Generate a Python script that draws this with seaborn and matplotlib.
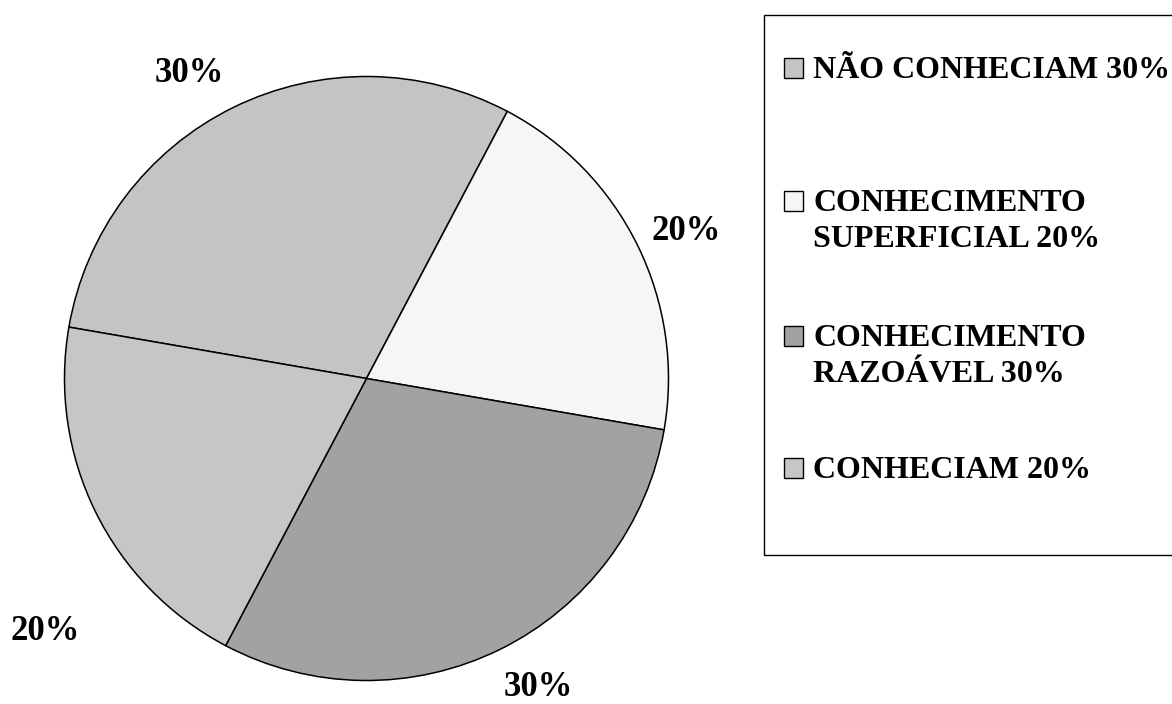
import matplotlib
matplotlib.use("Agg")
import matplotlib.pyplot as plt
from matplotlib.patches import Rectangle
import seaborn as sns

# Survey answers and their shares (percent)
categories = ["NÃO CONHECIAM", "CONHECIMENTO\nSUPERFICIAL", "CONHECIMENTO\nRAZOÁVEL", "CONHECIAM"]
shares = [30, 20, 30, 20]
slice_colors = ["#c4c4c4", "#f6f6f6", "#a2a2a2", "#c6c6c6"]

sns.set_theme(style="white")
plt.rcParams["font.family"] = ["Liberation Serif", "DejaVu Serif"]
plt.rcParams["font.weight"] = "bold"

W, H = 1172, 704
fig = plt.figure(figsize=(W / 100, H / 100), dpi=100)
fig.patch.set_facecolor("white")

# Pie axes: centre and radius in pixels
cx, cy, r = 366.5, 378.5, 302
ax = fig.add_axes([(cx - r) / W, (H - cy - r) / H, 2 * r / W, 2 * r / H])
wedges, texts = ax.pie(
    shares,
    colors=slice_colors,
    startangle=170.2,
    counterclock=False,
    labels=[f"{v}%" for v in shares],
    labeldistance=1.175,
    wedgeprops=dict(edgecolor="black", linewidth=1.1),
    textprops=dict(fontsize=25, fontweight="bold", color="black"),
)

# percentage labels: centre x / baseline y in pie units (radius = 1)
label_xy = [(-0.588, 0.983), (1.058, 0.459), (0.568, -1.050), (-1.065, -0.866)]
for t, (lx, ly) in zip(texts, label_xy):
    t.set_position((lx, ly))
    t.set_horizontalalignment("center")
    t.set_verticalalignment("baseline")

ax.set_xlim(-1, 1)
ax.set_ylim(-1, 1)
ax.axis("off")

# Legend box
fig.patches.append(Rectangle((764 / W, (H - 555) / H), (W + 20 - 764) / W, 540 / H,
                             transform=fig.transFigure, facecolor="none",
                             edgecolor="black", linewidth=1.0, clip_on=False))

baselines = [78, 211, 346, 478]
line_gap = 36
for name, v, col, yb in zip(categories, shares, slice_colors, baselines):
    fig.patches.append(Rectangle((784 / W, (H - yb) / H), 19 / W, 20 / H,
                                 transform=fig.transFigure, facecolor=col,
                                 edgecolor="black", linewidth=1.0))
    lines = f"{name} {v}%".split("\n")
    for i, line in enumerate(lines):
        fig.text(813 / W, (H - yb - i * line_gap) / H, line, fontsize=23,
                 fontweight="bold", va="baseline", ha="left", color="black")

fig.savefig("out.png", dpi=100, facecolor="white")
